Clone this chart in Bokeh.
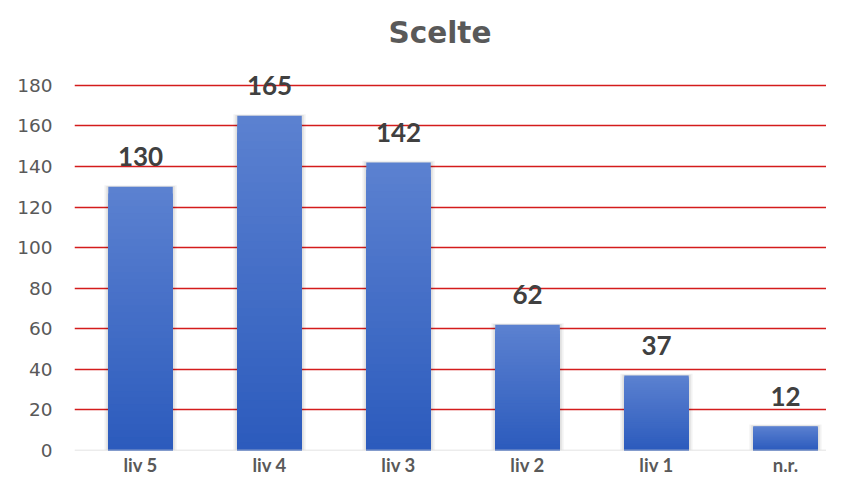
import numpy as np
from bokeh.plotting import figure
from bokeh.models import Range1d, FixedTicker, ColumnDataSource, Span
from bokeh.embed import file_html
from bokeh.resources import INLINE
from bokeh.core.properties import value

categories = ["liv 5", "liv 4", "liv 3", "liv 2", "liv 1", "n.r."]
counts = [130, 165, 142, 62, 37, 12]
y_ticks = [0, 20, 40, 60, 80, 100, 120, 140, 160, 180]

FONT = "Lato"

p = figure(width=826, height=478, output_backend="svg", toolbar_location=None,
           x_range=Range1d(-0.012, 5.818), y_range=Range1d(0, 191.3),
           min_border_left=74, min_border_right=0, min_border_top=62,
           min_border_bottom=26, title="Scelte")
p.outline_line_color = None
p.background_fill_color = "white"
p.border_fill_color = "white"

p.title.align = "left"
p.title.text_font = "DejaVu Sans"
p.title.text_font_size = "29.5px"
p.title.text_font_style = "bold"
p.title.text_color = "#595959"
p.title.offset = 314
p.title.standoff = 26

xpos = [i + 0.5 for i in range(len(categories))]

# grid
p.xgrid.visible = False
p.ygrid.ticker = FixedTicker(ticks=y_ticks)
p.ygrid.grid_line_color = "#d41c1c"
p.ygrid.grid_line_width = 1.6

# axes
p.yaxis.ticker = FixedTicker(ticks=y_ticks)
p.yaxis.axis_line_color = None
p.yaxis.major_tick_line_color = None
p.yaxis.minor_tick_line_color = None
p.yaxis.major_tick_out = 0
p.yaxis.major_tick_in = 0
p.yaxis.major_label_text_font = "DejaVu Sans"
p.yaxis.major_label_text_font_size = "18.5px"
p.yaxis.major_label_text_color = "#595959"
p.yaxis.major_label_standoff = 22

p.xaxis.ticker = FixedTicker(ticks=xpos)
p.xaxis.major_label_overrides = {x: c for x, c in zip(xpos, categories)}
p.xaxis.axis_line_color = None
p.xaxis.major_tick_line_color = None
p.xaxis.minor_tick_line_color = None
p.xaxis.major_tick_out = 0
p.xaxis.major_tick_in = 0
p.xaxis.major_label_text_font = FONT
p.xaxis.major_label_text_font_size = "18.5px"
p.xaxis.major_label_text_font_style = "bold"
p.xaxis.major_label_text_color = "#595959"
p.xaxis.major_label_standoff = 3

# shadow
p.vbar(x=xpos, top=[c + 0.8 for c in counts], bottom=0, width=0.56,
       fill_color="black", fill_alpha=0.05, line_color=None)
p.vbar(x=xpos, top=[c + 0.4 for c in counts], bottom=0, width=0.53,
       fill_color="black", fill_alpha=0.07, line_color=None)

# gradient bars: layered from full bar (top colour) down to short bars (bottom colour)
N = 40
top_rgb = np.array([0x5c, 0x82, 0xd1])
bot_rgb = np.array([0x2c, 0x5b, 0xbd])
gx, gt, gc = [], [], []
for k in range(N - 1, -1, -1):
    f = (k + 0.5) / N
    c = (bot_rgb + (top_rgb - bot_rgb) * f).astype(int)
    col = "#%02x%02x%02x" % tuple(c)
    for x, v in zip(xpos, counts):
        gx.append(x)
        gt.append(v * (k + 1) / N)
        gc.append(col)
src = ColumnDataSource(dict(x=gx, top=gt, color=gc))
p.vbar(x="x", bottom=0, top="top", width=0.5, fill_color="color",
       line_color=None, source=src)

# zero line
p.add_layout(Span(location=y_ticks[0], dimension="width", line_color="#d9d9d9",
                  line_width=1.5))

# value labels
lab = ColumnDataSource(dict(x=xpos, y=counts, t=[str(c) for c in counts]))
p.text(x="x", y="y", text="t", source=lab, text_align="center",
       text_baseline="alphabetic", y_offset=-30, text_font=value(FONT),
       text_font_size="26px", text_font_style="bold", text_color="#404040")

open("out.html", "w").write(file_html(p, INLINE))
